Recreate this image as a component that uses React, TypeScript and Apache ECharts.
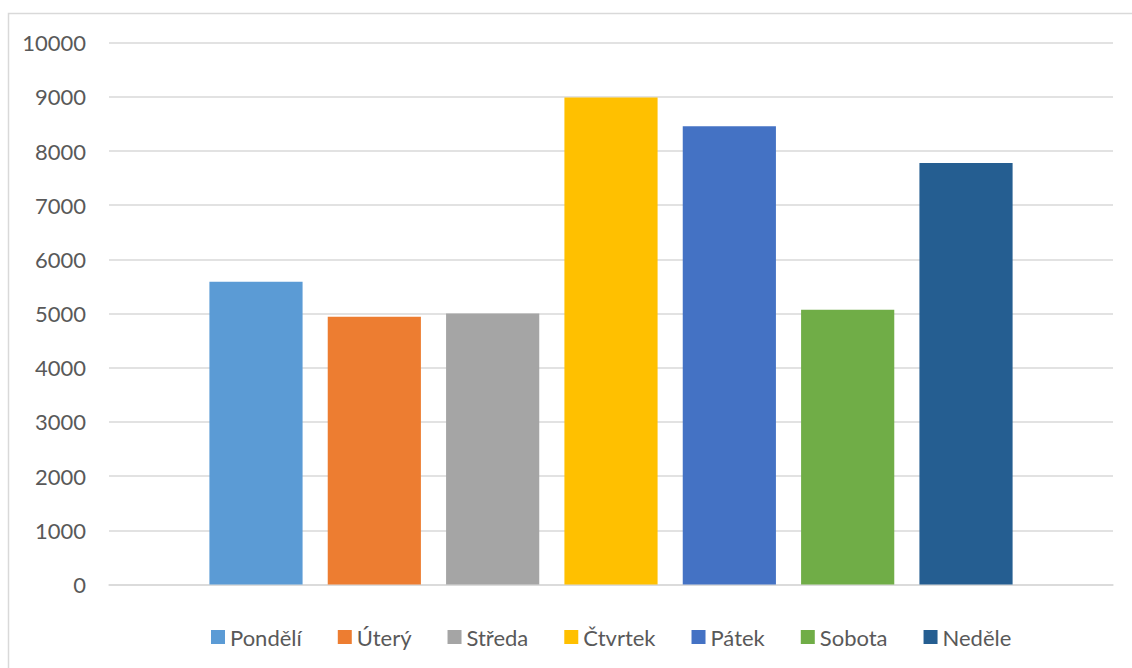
import React, { useEffect, useRef } from "react";
import * as echarts from "echarts";

// Weekly totals, one bar per day
const days = ["Pondělí", "Úterý", "Středa", "Čtvrtek", "Pátek", "Sobota", "Neděle"];
const values = [5590, 4940, 5000, 8990, 8460, 5070, 7780];
const dayColors = ["#5B9BD5", "#ED7D31", "#A5A5A5", "#FFC000", "#4472C4", "#70AD47", "#255E91"];
const categories = ["Týden"];
const yTicks = { min: 0, max: 10000, interval: 1000 };

const FONT = "Lato, 'Open Sans', sans-serif";
const TEXT = "#595959";
const GRID = "#d9d9d9";

export default function App() {
  const ref = useRef<HTMLDivElement>(null);

  useEffect(() => {
    if (!ref.current) return;
    const chart = echarts.init(ref.current, undefined, { renderer: "svg" });
    chart.setOption({
      animation: false,
      backgroundColor: "#ffffff",
      textStyle: { fontFamily: FONT },
      graphic: [
        {
          type: "rect",
          shape: { x: 8.5, y: 13.5, width: 1140, height: 700 },
          style: { fill: "none", stroke: GRID, lineWidth: 1.5 },
          silent: true,
        },
      ],
      grid: { left: 109, right: 19, top: 42.7, bottom: 83.5, containLabel: false },
      legend: {
        data: days,
        left: 206,
        top: 621,
        icon: "rect",
        itemWidth: 14,
        itemHeight: 14,
        itemGap: 36,
        textStyle: { color: TEXT, fontSize: 22, fontFamily: FONT, lineHeight: 20 },
      },
      xAxis: {
        type: "category",
        data: categories,
        axisLine: { show: true, lineStyle: { color: GRID, width: 1.5 } },
        axisTick: { show: false },
        axisLabel: { show: false },
      },
      yAxis: {
        type: "value",
        min: yTicks.min,
        max: yTicks.max,
        interval: yTicks.interval,
        axisLine: { show: false },
        axisTick: { show: false },
        axisLabel: {
          color: TEXT,
          fontSize: 22,
          fontFamily: FONT,
          margin: 23,
          formatter: (v: number) => String(v),
        },
        splitLine: { lineStyle: { color: GRID, width: 1.5 } },
      },
      series: days.map((day, i) => ({
        name: day,
        type: "bar",
        data: [values[i]],
        itemStyle: { color: dayColors[i] },
        barGap: "27%",
        barCategoryGap: "20%",
      })),
    });
    return () => chart.dispose();
  }, []);

  return (
    <div
      ref={ref}
      style={{ position: "fixed", left: 0, top: 0, width: 1132, height: 668 }}
    />
  );
}
